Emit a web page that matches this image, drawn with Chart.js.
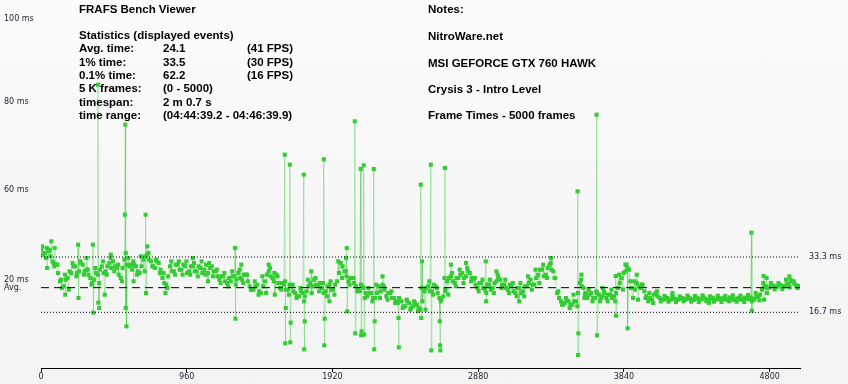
<!DOCTYPE html>
<html>
<head>
<meta charset="utf-8">
<title>FRAFS Bench Viewer</title>
<script src="https://cdn.jsdelivr.net/npm/chart.js@4.4.1/dist/chart.umd.min.js"></script>
<style>
    html, body { margin: 0; padding: 0; }
    body { width: 848px; height: 384px; overflow: hidden; background: linear-gradient(#fcfcfc, #f3f3f3); }
    canvas { display: block; }
</style>
</head>
<body>
<canvas id="frameChart" width="848" height="384"></canvas>
<script>
/* ---------- data ---------- */
// frame time (ms) every 25 frames
const frameStep = 25;
const frameTimes = [
    35.5, 34.5, 35, 32, 31, 26, 24.5, 27,
    28.5, 30.5, 29, 31, 29.5, 27, 26.5, 28,
    30.5, 29, 31.5, 32, 30, 27, 32.5, 33,
    29.5, 30.5, 28.5, 32.5, 34, 32, 30, 31.5,
    27, 25, 30.5, 29, 31, 29.5, 30.5, 29,
    30.5, 29, 30, 29.5, 28.5, 30.5, 29, 26.5,
    27.5, 25.5, 26, 27.5, 28.5, 26.5, 28, 24.5,
    23.5, 25, 22.5, 26, 29, 27, 28, 24,
    25, 23.5, 24.5, 22.5, 21.5, 22.5, 23, 25.5,
    26.5, 24.5, 24, 23, 25, 23.5, 26, 31.5,
    29, 26, 27, 24.5, 23, 24, 21.5, 22.5,
    21, 24.5, 25, 21.5, 22.5, 21, 19.5, 20,
    18.5, 19.5, 18.5, 19, 17.5, 23, 24.5, 23,
    24.5, 21, 21.5, 26, 27.5, 25.5, 27, 28.5,
    27.5, 28.5, 26.5, 24, 25.5, 23.5, 25, 24,
    26, 26.5, 25, 23.5, 24.5, 22.5, 24, 23,
    24.5, 26.5, 25, 28, 29.5, 28, 31, 29,
    22.5, 20, 19.5, 20, 19, 20, 25.5, 24,
    21, 22.5, 21, 22, 21.5, 21, 22, 21.5,
    24, 27, 29, 29.5, 21, 25.5, 24, 23,
    20, 20.5, 22.5, 21, 20.5, 21, 20.5, 20.8,
    20.5, 21, 20.6, 20.9, 20.4, 21, 20.6, 20.8,
    20.5, 21.1, 20.6, 20.5, 21, 20.6, 20.8, 20.5,
    20.9, 20.6, 21, 21.2, 20.5, 21.5, 23.5, 24.5,
    24.2, 24.7, 24.4, 24.8, 24.5, 25.2, 26, 24.8,
    24.6
];
// the frames half way between
const frameTimesMid = [
    34, 36, 33.5, 30.5, 28.5, 24, 26.5, 29,
    30.5, 28.5, 31.5, 29, 28, 25.5, 28.5, 29.5,
    28.5, 30.5, 30, 30.5, 28, 30, 31, 31,
    31, 29, 30.5, 33.5, 32.5, 30.5, 32, 29.5,
    25.5, 27.5, 29, 31, 29.5, 31, 28.5, 30.5,
    29, 30.5, 28.5, 31, 30, 29, 27.5, 27.5,
    26, 27, 27.5, 26.5, 27, 28, 26, 23.5,
    24.5, 23, 24.5, 28, 27.5, 28.5, 25.5, 25.5,
    23.5, 25, 23, 21.5, 23, 21.5, 24.5, 24.5,
    25, 25.5, 22.5, 24.5, 23.5, 25, 28.5, 30.5,
    27.5, 27, 25.5, 23.5, 24.5, 22.5, 22.5, 21,
    22.5, 23, 23.5, 22.5, 21, 20, 20.5, 18.5,
    20, 18, 19.5, 18, 20, 24, 23, 25,
    22.5, 20.5, 23.5, 27, 26, 27, 28, 27,
    29, 27, 25, 25.5, 24, 25, 23.5, 25.5,
    27, 25, 24, 25, 23, 24, 22.5, 24.5,
    25.5, 25, 27, 29.5, 27.5, 30, 29.5, 27,
    21, 19, 20.5, 19, 20, 22.5, 24.5, 22.5,
    22, 21, 22.5, 21, 22.5, 22, 21, 22.5,
    25.5, 28.5, 30, 24, 23.5, 24.5, 25, 21.5,
    21, 22, 21.5, 20.5, 20.8, 20.4, 21.2, 20.5,
    20.9, 20.4, 21.3, 20.5, 20.8, 20.5, 21.2, 20.4,
    20.8, 20.4, 21, 20.9, 20.5, 21.2, 20.4, 20.9,
    20.5, 21.1, 20.6, 20.8, 21.3, 22, 24.2, 24,
    24.8, 24.3, 25, 24.5, 25.1, 26.5, 25.3, 24.5
];
// upper and lower edge of the band, every 50 frames
const bandStep = 50;
const bandTop = [
    36.5, 35.5, 31, 28, 31.5, 32, 29.5, 30, 32, 33,
    31, 34.5, 32, 33.5, 34.5, 32.5, 28.5, 32, 32, 32,
    31.5, 32, 31.5, 29.5, 28.5, 29, 29.5, 28, 26, 27.5,
    30, 27.5, 26, 25, 24, 26.5, 27, 25.5, 26, 32,
    29, 27, 25, 24, 25, 24.5, 23, 21, 20.5, 20,
    24, 26, 24, 27, 28.5, 29.5, 30, 27, 26.5, 26.5,
    28, 26.5, 25.5, 25.5, 27.5, 29.5, 31, 31.5, 23, 21,
    22, 26.5, 23.5, 23, 23, 23.5, 28, 31, 26, 25,
    22.5, 23, 21.6, 21.8, 21.5, 21.7, 21.6, 21.8, 21.5, 21.7,
    21.6, 21.8, 21.7, 21.9, 22.5, 25.5, 25.5, 25.5, 26.5, 26
];
const bandBottom = [
    33, 31.5, 26.5, 23.5, 27.5, 28, 25, 25.5, 28, 29,
    26, 30.5, 28, 29, 30.5, 28.5, 24, 28, 28, 28,
    27.5, 28, 27.5, 25.5, 24.5, 25, 25.5, 23.5, 22, 22.5,
    26, 23.5, 22, 21, 20, 22.5, 23, 21.5, 22, 27,
    25, 23, 21, 20, 21, 20.5, 19.5, 18, 17.5, 17,
    17.5, 22, 20, 22, 24.5, 25.5, 26, 23, 22.5, 22.5,
    24, 22.5, 21.5, 21.5, 23.5, 25.5, 27, 27, 19, 18,
    18.5, 22, 20, 20, 20, 20, 23.5, 26, 20.5, 21,
    19.5, 20, 19.9, 19.8, 20, 19.9, 19.8, 20, 19.9, 19.8,
    20, 19.9, 19.8, 20, 20.3, 22.5, 23.6, 23.7, 24.2, 24
];

// single events: stutter spikes, catch-up frames and stray points
const spikeFrames = [
    40, 68, 90, 160, 244, 247, 300, 342, 345, 375, 378, 383, 420, 460,
    552, 555, 558, 563, 610, 689, 692, 700, 820, 1000, 1100, 1278, 1281,
    1320, 1500, 1540, 1606, 1609, 1612, 1639, 1642, 1645, 1731, 1734, 1737,
    1780, 1863, 1866, 1869, 1900, 2010, 2014, 2017, 2067, 2070, 2106, 2109,
    2112, 2126, 2129, 2192, 2195, 2198, 2250, 2355, 2357, 2502, 2505, 2510,
    2568, 2571, 2627, 2629, 2631, 2661, 2664, 2700, 2800, 2930, 2933, 3000,
    3150, 3360, 3535, 3538, 3540, 3560, 3580, 3660, 3663, 3700, 3785, 3788,
    3850, 3864, 3925, 4160, 4400, 4680, 4683, 4760, 4763, 4780, 4930
];
const spikeTimes = [
    30, 38, 36, 22, 37, 21, 33, 37, 16.6, 85, 19.6, 18, 22, 34,
    46, 73, 18, 12.5, 26, 46, 22.5, 36.5, 22.5, 33, 26, 36, 14.8,
    31, 31, 22, 64, 7.4, 18, 61, 7.7, 13.6, 58, 5.6, 14,
    29, 62.6, 6.8, 14.8, 20, 33, 36, 17, 74, 10.4, 59.7, 9.8,
    11, 60.8, 10, 59.7, 5.6, 14, 27.5, 15, 6.2, 55, 15, 32,
    61, 5.3, 14, 6.8, 5.3, 60, 23, 31, 31.5, 32, 20, 29,
    20, 33, 53, 3.9, 10.4, 28, 21, 76, 9.8, 24, 27.6, 15.7,
    31, 11.9, 28, 22.5, 19.5, 40.6, 17.2, 27.6, 20.5, 27, 27.5
];

const xTickValues = [0, 960, 1920, 2880, 3840, 4800];
// the viewer's own left labels sit at these values
const leftTickValues = [104.7, 79.8, 53.4, 26.4, 24.1];
const leftTickLabels = ['100 ms', '80 ms', '60 ms', '20 ms', 'Avg.'];
const rightTickValues = [33.3, 16.7];
const rightTickLabels = ['33.3 ms', '16.7 ms'];
const avgTime = 24.1;
const limit30fps = 33.3;
const limit60fps = 16.7;

const statLabels = ['Avg. time:', '1% time:', '0.1% time:', '5 K frames:', 'timespan:', 'time range:'];
const statValues = ['24.1', '33.5', '62.2', '(0 - 5000)', '2 m 0.7 s', '(04:44:39.2 - 04:46:39.9)'];
const statFps = ['(41 FPS)', '(30 FPS)', '(16 FPS)', '', '', ''];
const notes = ['NitroWare.net', 'MSI GEFORCE GTX 760 HAWK', 'Crysis 3 - Intro Level', 'Frame Times - 5000 frames'];

/* ---------- build points ---------- */
const points = frameTimes.map((v, i) => ({ x: i * frameStep, y: v }));
frameTimesMid.forEach((v, i) => points.push({ x: i * frameStep + frameStep / 2, y: v }));
bandTop.forEach((v, i) => points.push({ x: i * bandStep + 8, y: v }));
bandBottom.forEach((v, i) => points.push({ x: i * bandStep + 33, y: v }));
spikeFrames.forEach((f, i) => points.push({ x: f, y: spikeTimes[i] }));
points.sort((a, b) => a.x - b.x);

const hLine = v => [{ x: 0, y: v }, { x: 5000, y: v }];

/* ---------- header text ---------- */
const headerText = {
    id: 'headerText',
    afterDraw(chart) {
        const ctx = chart.ctx;
        ctx.save();
        ctx.font = 'bold 11.5px "Liberation Sans", Arial, sans-serif';
        ctx.fillStyle = '#000';
        ctx.textBaseline = 'middle';
        ctx.fillText('FRAFS Bench Viewer', 79, 10);
        ctx.fillText('Statistics (displayed events)', 79, 36);
        statLabels.forEach((t, i) => {
            const y = 49 + i * 13.4;
            ctx.fillText(t, 79, y);
            ctx.fillText(statValues[i], 163, y);
            if (statFps[i]) ctx.fillText(statFps[i], 247, y);
        });
        ctx.fillText('Notes:', 428, 10);
        notes.forEach((t, i) => ctx.fillText(t, 428, 37 + i * 26.4));
        ctx.restore();
    }
};

const tickFont = { family: '"DejaVu Sans", sans-serif', size: 8 };
const tickColor = '#1c1c30';

new Chart(document.getElementById('frameChart'), {
    type: 'line',
    data: {
        datasets: [
            { data: hLine(limit30fps), borderColor: '#000', borderWidth: 1, borderDash: [1, 2], pointRadius: 0, order: 0 },
            { data: hLine(avgTime), borderColor: '#000', borderWidth: 1, borderDash: [8, 5], pointRadius: 0, order: 0 },
            { data: hLine(limit60fps), borderColor: '#000', borderWidth: 1, borderDash: [1, 2], pointRadius: 0, order: 0 },
            {
                data: points,
                borderColor: 'rgba(51, 204, 51, 0.35)',
                borderWidth: 1,
                pointStyle: 'rect',
                pointRadius: 2.9,
                pointBorderWidth: 0,
                pointBackgroundColor: '#33cc33',
                order: 1
            }
        ]
    },
    options: {
        responsive: false,
        animation: false,
        events: [],
        layout: { padding: { left: 4, top: 0, right: 0, bottom: 0 } },
        plugins: { legend: { display: false }, tooltip: { enabled: false } },
        scales: {
            x: {
                type: 'linear', min: 0, max: 5000,
                afterBuildTicks: s => { s.ticks = xTickValues.map(v => ({ value: v })); },
                afterFit: s => { s.height = 16; s.paddingLeft = 0; s.paddingRight = 0; },
                ticks: {
                    autoSkip: false, maxRotation: 0, padding: 0, font: tickFont, color: tickColor,
                    callback: v => String(v)
                },
                grid: { drawOnChartArea: false, tickLength: 4, color: '#000' },
                border: { color: '#000', width: 1 }
            },
            y: {
                type: 'linear', position: 'left', min: 0, max: 109.2,
                afterBuildTicks: s => { s.ticks = leftTickValues.map(v => ({ value: v })); },
                afterFit: s => { s.width = 37; s.paddingTop = 0; s.paddingBottom = 0; },
                ticks: {
                    autoSkip: false, crossAlign: 'far', padding: 0, font: tickFont, color: tickColor,
                    callback: v => leftTickLabels[leftTickValues.indexOf(v)]
                },
                grid: { display: false, drawTicks: false },
                border: { display: false }
            },
            y2: {
                type: 'linear', position: 'right', min: 0, max: 109.2,
                afterBuildTicks: s => { s.ticks = rightTickValues.map(v => ({ value: v })); },
                afterFit: s => { s.width = 48; s.paddingTop = 0; s.paddingBottom = 0; },
                ticks: {
                    autoSkip: false, padding: 9, font: tickFont, color: tickColor,
                    callback: v => rightTickLabels[rightTickValues.indexOf(v)]
                },
                grid: { display: false, drawTicks: false },
                border: { display: false }
            }
        }
    },
    plugins: [headerText]
});
</script>
</body>
</html>
